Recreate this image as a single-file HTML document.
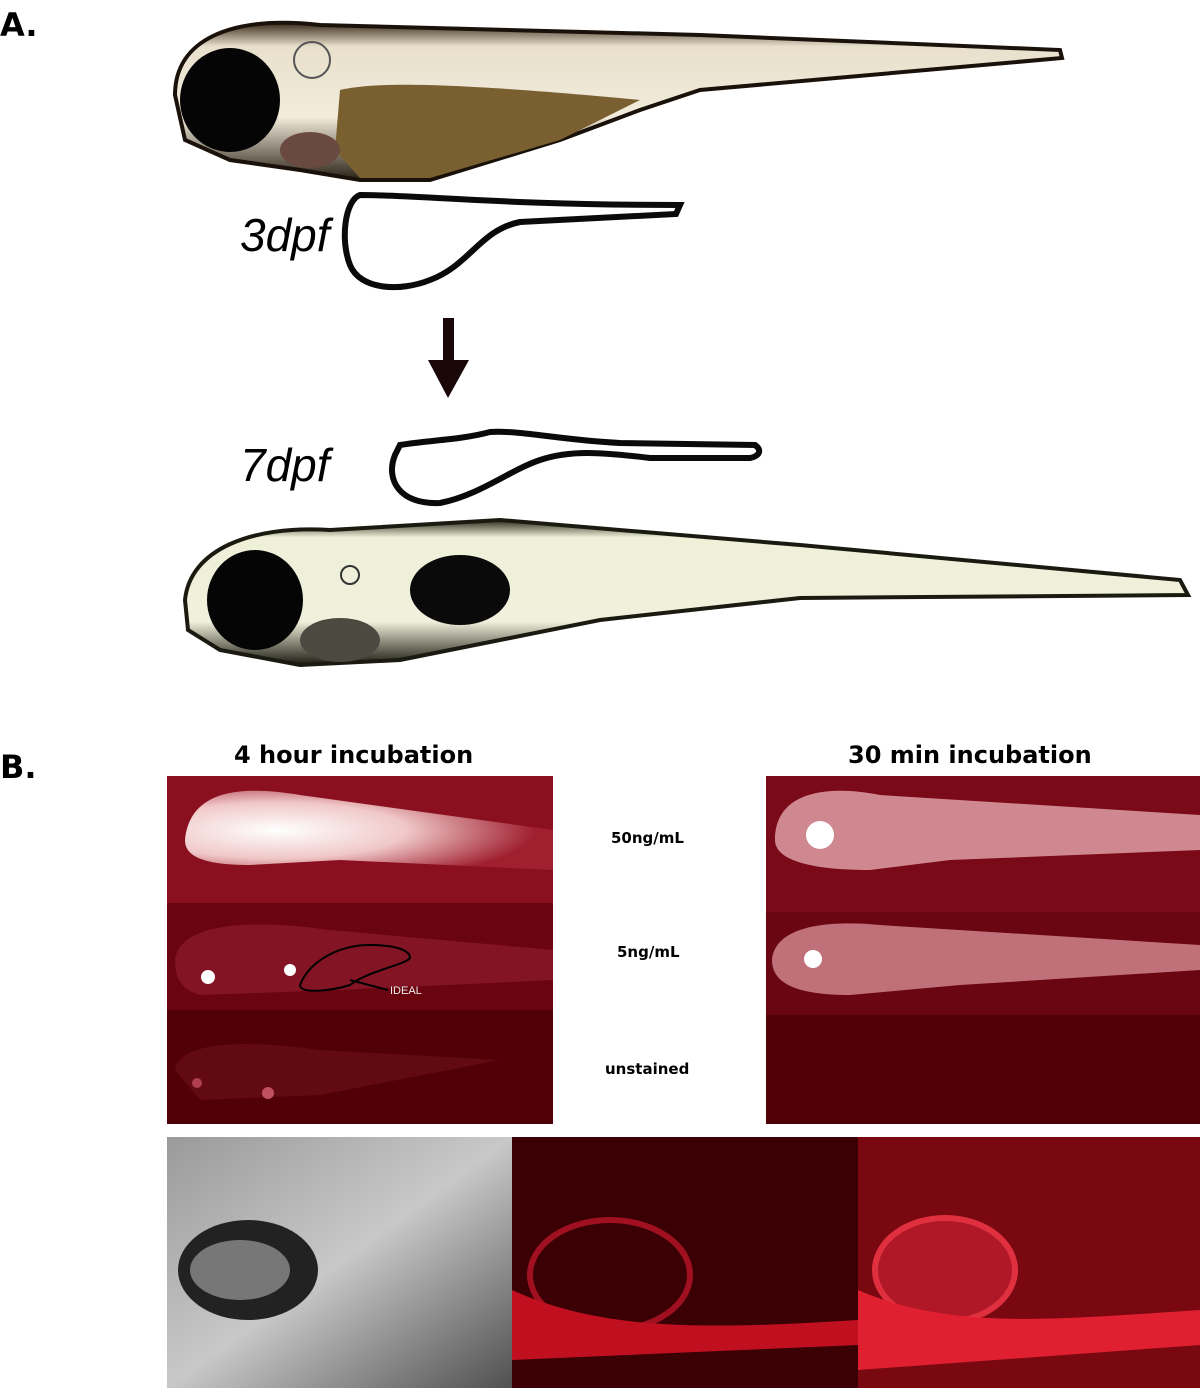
<!DOCTYPE html>
<html><head><meta charset="utf-8"><style>
html,body{margin:0;padding:0;background:#fff;}
body{width:1200px;height:1388px;position:relative;overflow:hidden;font-family:"Liberation Sans",sans-serif;}
.t{position:absolute;white-space:nowrap;}
.d{font-family:"DejaVu Sans","Liberation Sans",sans-serif;font-weight:bold;}
</style></head><body>
<svg width="1200" height="1388" style="position:absolute;left:0;top:0">
<defs>
<linearGradient id="body1" x1="0" y1="0" x2="0" y2="1">
<stop offset="0" stop-color="#3a2a1a"/><stop offset="0.15" stop-color="#e8e0cc"/><stop offset="0.6" stop-color="#f2ecdc"/><stop offset="1" stop-color="#2a2015"/></linearGradient>
<linearGradient id="body2" x1="0" y1="0" x2="0" y2="1">
<stop offset="0" stop-color="#2a2a1a"/><stop offset="0.12" stop-color="#eef0d8"/><stop offset="0.7" stop-color="#f0f0dc"/><stop offset="1" stop-color="#1a1a10"/></linearGradient>
<radialGradient id="glowL" cx="0.25" cy="0.5" r="0.7"><stop offset="0" stop-color="#fff"/><stop offset="0.5" stop-color="#f0c8c8"/><stop offset="1" stop-color="#a02030"/></radialGradient>
<linearGradient id="grey" x1="0" y1="0" x2="1" y2="1"><stop offset="0" stop-color="#9a9a9a"/><stop offset="0.5" stop-color="#c8c8c8"/><stop offset="1" stop-color="#505050"/></linearGradient>
</defs>
<path d="M175,95 C175,40 230,15 320,25 L700,35 L1060,50 L1062,58 L700,90 L640,110 L560,140 L430,180 L360,180 L300,170 L230,160 L185,140 Z" fill="url(#body1)" stroke="#1a120a" stroke-width="4"/>
<path d="M340,90 C380,80 480,85 640,100 L560,140 L430,178 L360,178 L335,150 Z" fill="#7a6030"/>
<ellipse cx="230" cy="100" rx="50" ry="52" fill="#050505"/>
<ellipse cx="310" cy="150" rx="30" ry="18" fill="#6a4a40"/>
<circle cx="312" cy="60" r="18" fill="none" stroke="#555" stroke-width="2"/>
<path d="M360,195 C420,195 500,205 680,205 L676,214 L520,222 C480,230 470,265 430,280 C400,292 360,290 350,265 C340,240 345,200 360,195 Z" fill="none" stroke="#0a0a0a" stroke-width="6"/>
<rect x="443" y="318" width="11" height="48" fill="#1a0808"/>
<polygon points="428,360 469,360 448,398" fill="#1a0808"/>
<path d="M400,445 C430,440 460,440 490,432 C520,430 560,440 620,443 L755,445 C762,450 760,456 750,458 L650,458 C600,452 570,450 540,460 C510,470 480,495 440,503 C400,505 385,480 395,455 Z" fill="none" stroke="#0a0a0a" stroke-width="6"/>
<path d="M185,600 C190,550 250,525 330,530 L500,520 L800,545 L1180,580 L1188,595 L800,598 L600,620 L500,640 L400,660 L300,665 L220,650 L188,630 Z" fill="url(#body2)" stroke="#1a1a10" stroke-width="4"/>
<ellipse cx="255" cy="600" rx="48" ry="50" fill="#050505"/>
<ellipse cx="340" cy="640" rx="40" ry="22" fill="#4a4a40"/>
<ellipse cx="460" cy="590" rx="50" ry="35" fill="#0a0a0a"/>
<circle cx="350" cy="575" r="9" fill="none" stroke="#333" stroke-width="2"/>
<rect x="167" y="776" width="386" height="348" fill="#5a0008"/>
<rect x="167" y="776" width="386" height="127" fill="#8a1020"/>
<path d="M185,840 C190,790 240,785 300,795 L553,830 L553,870 L340,860 L250,865 C200,865 185,855 185,840 Z" fill="url(#glowL)"/>
<rect x="167" y="903" width="386" height="107" fill="#6a0510"/>
<path d="M175,960 C180,920 260,920 330,930 L553,950 L553,980 L340,990 L200,995 C180,990 175,975 175,960 Z" fill="#8a1828" opacity="0.8"/>
<circle cx="208" cy="977" r="7" fill="#fff"/><circle cx="290" cy="970" r="6" fill="#fff"/>
<path d="M300,985 C310,960 340,945 370,945 C395,945 410,950 410,958 C405,965 370,970 350,985 C335,990 300,995 300,985 Z" fill="none" stroke="#000" stroke-width="2"/>
<line x1="388" y1="990" x2="350" y2="980" stroke="#000" stroke-width="2"/>
<rect x="167" y="1010" width="386" height="114" fill="#500006"/>
<path d="M175,1070 C180,1040 250,1040 320,1050 L500,1060 L320,1095 L200,1100 Z" fill="#620a12"/>
<circle cx="197" cy="1083" r="5" fill="#b04050"/><circle cx="268" cy="1093" r="6" fill="#c05060"/>
<rect x="766" y="776" width="434" height="348" fill="#5a0008"/>
<rect x="766" y="776" width="434" height="136" fill="#7a0a18"/>
<path d="M775,840 C775,790 830,785 880,795 L1200,815 L1200,850 L950,860 L870,870 C810,870 775,860 775,840 Z" fill="#d08890"/>
<circle cx="820" cy="835" r="14" fill="#fff"/>
<rect x="766" y="912" width="434" height="103" fill="#6a0612"/>
<path d="M772,960 C775,925 830,920 880,925 L1200,945 L1200,970 L960,985 L850,995 C800,995 772,985 772,960 Z" fill="#c07078"/>
<circle cx="813" cy="959" r="9" fill="#fff"/>
<rect x="766" y="1015" width="434" height="109" fill="#500006"/>
<rect x="167" y="1137" width="345" height="251" fill="url(#grey)"/>
<ellipse cx="248" cy="1270" rx="70" ry="50" fill="#222"/>
<ellipse cx="240" cy="1270" rx="50" ry="30" fill="#777"/>
<rect x="512" y="1137" width="346" height="251" fill="#3a0004"/>
<ellipse cx="610" cy="1275" rx="80" ry="55" fill="none" stroke="#a01020" stroke-width="6"/>
<path d="M512,1290 C600,1330 700,1330 858,1320 L858,1345 L512,1360 Z" fill="#c01020"/>
<rect x="858" y="1137" width="342" height="251" fill="#7a0810"/>
<ellipse cx="945" cy="1270" rx="70" ry="52" fill="#b01828" stroke="#e03040" stroke-width="6"/>
<path d="M858,1290 C950,1330 1050,1320 1200,1310 L1200,1345 L858,1370 Z" fill="#e02030"/>
</svg>
<div class="t d" style="left:0;top:6px;font-size:32px;">A.</div>
<div class="t d" style="left:0;top:748px;font-size:32px;">B.</div>
<div class="t" style="left:240px;top:208px;font-size:46px;font-style:italic;">3dpf</div>
<div class="t" style="left:240px;top:438px;font-size:46px;font-style:italic;">7dpf</div>
<div class="t d" style="left:234px;top:741px;font-size:24px;">4 hour incubation</div>
<div class="t d" style="left:848px;top:741px;font-size:24px;">30 min incubation</div>
<div class="t d" style="left:611px;top:829px;font-size:15px;">50ng/mL</div>
<div class="t d" style="left:617px;top:943px;font-size:15px;">5ng/mL</div>
<div class="t d" style="left:605px;top:1060px;font-size:15px;">unstained</div>
<div class="t" style="left:390px;top:985px;font-size:11px;color:#eee;">IDEAL</div>
</body></html>
